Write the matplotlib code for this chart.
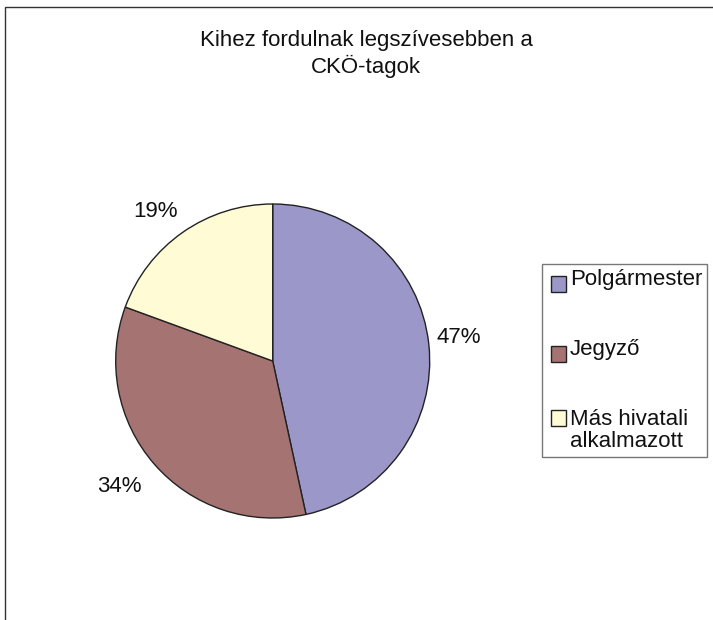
import matplotlib.pyplot as plt
from matplotlib.patches import Rectangle, Patch
from matplotlib.legend_handler import HandlerPatch

plt.rcParams['font.family'] = ['Liberation Sans', 'DejaVu Sans']

# data
categories = ['Polgármester', 'Jegyző', 'Más hivatali\nalkalmazott']
counts = [48, 35, 20]
colors = ['#9B97C9', '#A67373', '#FFFBD5']
title = 'Kihez fordulnak legszívesebben a\nCKÖ-tagok'

W, H = 713, 620
FS = 16
fig = plt.figure(figsize=(W / 100, H / 100), dpi=100)

# chart area frame (runs off right and bottom edge)
fig.patches.append(Rectangle((5 / W, -0.1), 1.2, 1.1 - 7 / H, transform=fig.transFigure,
                             fill=False, edgecolor='#333333', linewidth=1.0))

fig.text(366 / W, 1 - 54 / H, title, ha='center', va='center', fontsize=FS,
         linespacing=1.2, color='#111111')

cx, cy, r = 272.7, 361, 157
ax = fig.add_axes([(cx - r) / W, (H - cy - r) / H, 2 * r / W, 2 * r / H])
wedges, texts = ax.pie(counts, colors=colors, startangle=90, counterclock=False,
                       wedgeprops=dict(edgecolor='#222222', linewidth=1.0),
                       labels=['%d%%' % round(100 * c / sum(counts)) for c in counts],
                       labeldistance=1.22,
                       textprops=dict(fontsize=FS, color='#111111'))
# nudge labels toward where Excel put them
nudges = [(-0.03, 0.02), (-0.06, 0.0), (-0.05, -0.05)]
for t, (dx, dy) in zip(texts, nudges):
    x, y = t.get_position()
    t.set_position((x + dx, y + dy))
    t.set_horizontalalignment('center')
    t.set_verticalalignment('center')
ax.set_xlim(-1, 1)
ax.set_ylim(-1, 1)
ax.set_aspect('equal')


def excel_swatch(legend, orig_handle, xdescent, ydescent, width, height, fontsize):
    # swatch sits on the baseline of the first text line
    dy = 9.2 if getattr(orig_handle, 'two_line', False) else -5.0
    return Rectangle((-xdescent + 2.9, -ydescent + dy), width, height)


handles = [Patch(facecolor=c, edgecolor='#222222', linewidth=1.0) for c in colors]
for h, lab in zip(handles, categories):
    h.two_line = '\n' in lab
leg = fig.legend(handles, categories, loc='upper left',
                 bbox_to_anchor=(542 / W, 1 - 264 / H), fontsize=FS,
                 frameon=True, fancybox=False, edgecolor='#555555',
                 handlelength=0.7, handleheight=0.7, handletextpad=0.34,
                 labelspacing=2.2, borderpad=0.22, borderaxespad=0,
                 handler_map={Patch: HandlerPatch(patch_func=excel_swatch)})
leg.get_frame().set_linewidth(1.0)
for t in leg.get_texts():
    t.set_color('#111111')
    t.set_linespacing(1.1)

fig.savefig('out.png', dpi=100)
